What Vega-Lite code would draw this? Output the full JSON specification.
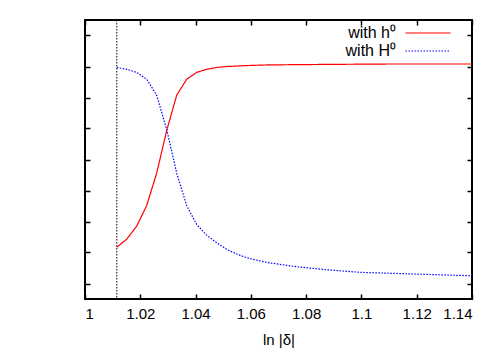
{
  "$schema": "https://vega.github.io/schema/vega-lite/v6.json",
  "width": 387,
  "height": 279,
  "autosize": {"type": "none"},
  "padding": {"left": 85, "top": 20, "right": 28, "bottom": 51},
  "background": "white",
  "config": {
    "view": {"stroke": "black", "strokeWidth": 2},
    "font": "Liberation Sans",
    "axis": {"domain": false, "grid": false, "tickColor": "black", "tickWidth": 1.5, "tickSize": -5, "labelFont": "Liberation Sans", "labelFontSize": 15, "labelColor": "black", "titleFont": "Liberation Sans", "titleFontSize": 15, "titleFontWeight": "normal", "titleColor": "black"}
  },
  "datasets": {
    "curves": [
      {"x": 1.0115, "y": 0.117, "series": "with h⁰"},
      {"x": 1.0151, "y": 0.143, "series": "with h⁰"},
      {"x": 1.0187, "y": 0.185, "series": "with h⁰"},
      {"x": 1.0223, "y": 0.251, "series": "with h⁰"},
      {"x": 1.0259, "y": 0.355, "series": "with h⁰"},
      {"x": 1.0296, "y": 0.495, "series": "with h⁰"},
      {"x": 1.0332, "y": 0.608, "series": "with h⁰"},
      {"x": 1.0368, "y": 0.659, "series": "with h⁰"},
      {"x": 1.0404, "y": 0.681, "series": "with h⁰"},
      {"x": 1.0440, "y": 0.691, "series": "with h⁰"},
      {"x": 1.0477, "y": 0.697, "series": "with h⁰"},
      {"x": 1.0513, "y": 0.700, "series": "with h⁰"},
      {"x": 1.0585, "y": 0.703, "series": "with h⁰"},
      {"x": 1.0657, "y": 0.705, "series": "with h⁰"},
      {"x": 1.0766, "y": 0.706, "series": "with h⁰"},
      {"x": 1.0911, "y": 0.707, "series": "with h⁰"},
      {"x": 1.1092, "y": 0.708, "series": "with h⁰"},
      {"x": 1.1272, "y": 0.708, "series": "with h⁰"},
      {"x": 1.14, "y": 0.708, "series": "with h⁰"},
      {"x": 1.0115, "y": 0.697, "series": "with H⁰"},
      {"x": 1.0151, "y": 0.691, "series": "with H⁰"},
      {"x": 1.0187, "y": 0.681, "series": "with H⁰"},
      {"x": 1.0223, "y": 0.659, "series": "with H⁰"},
      {"x": 1.0259, "y": 0.608, "series": "with H⁰"},
      {"x": 1.0296, "y": 0.495, "series": "with H⁰"},
      {"x": 1.0332, "y": 0.355, "series": "with H⁰"},
      {"x": 1.0368, "y": 0.251, "series": "with H⁰"},
      {"x": 1.0404, "y": 0.190, "series": "with H⁰"},
      {"x": 1.0440, "y": 0.156, "series": "with H⁰"},
      {"x": 1.0477, "y": 0.131, "series": "with H⁰"},
      {"x": 1.0513, "y": 0.110, "series": "with H⁰"},
      {"x": 1.0549, "y": 0.095, "series": "with H⁰"},
      {"x": 1.0585, "y": 0.083, "series": "with H⁰"},
      {"x": 1.0657, "y": 0.068, "series": "with H⁰"},
      {"x": 1.0766, "y": 0.054, "series": "with H⁰"},
      {"x": 1.0879, "y": 0.044, "series": "with H⁰"},
      {"x": 1.0995, "y": 0.036, "series": "with H⁰"},
      {"x": 1.1212, "y": 0.030, "series": "with H⁰"},
      {"x": 1.14, "y": 0.025, "series": "with H⁰"}
    ],
    "marker": [{"x": 1.0115}]
  },
  "layer": [
    {
      "data": {"name": "marker"},
      "mark": {"type": "rule", "color": "black", "strokeWidth": 1, "strokeDash": [1.5, 1.5]},
      "encoding": {
        "x": {"field": "x", "type": "quantitative", "scale": {"domain": [1, 1.14], "nice": false},
          "axis": {"orient": "top", "values": [1, 1.02, 1.04, 1.06, 1.08, 1.1, 1.12, 1.14], "labels": false, "title": null}}
      }
    },
    {
      "data": {"name": "curves"},
      "mark": {"type": "line", "strokeWidth": 1.2, "clip": true},
      "encoding": {
        "x": {"field": "x", "type": "quantitative", "scale": {"domain": [1, 1.14], "nice": false},
          "axis": {"orient": "bottom", "values": [1, 1.02, 1.04, 1.06, 1.08, 1.1, 1.12, 1.14], "format": ".2~f", "labelPadding": 12, "title": "ln |δ|", "titlePadding": 11}},
        "y": {"field": "y", "type": "quantitative", "scale": {"domain": [-0.05, 0.85], "nice": false, "zero": false},
          "axis": {"orient": "left", "values": [0, 0.1, 0.2, 0.3, 0.4, 0.5, 0.6, 0.7, 0.8], "labels": false, "title": null}},
        "color": {"field": "series", "type": "nominal",
          "scale": {"domain": ["with h⁰", "with H⁰"], "range": ["#ff0000", "#0000ff"]},
          "legend": {"orient": "none", "legendX": 335, "legendY": 5, "title": null, "symbolType": "M-5,0H5", "symbolSize": 81, "symbolStrokeWidth": 1.2, "labelFont": "Liberation Sans", "labelFontSize": 16, "labelColor": "black", "labelAlign": "right", "labelOffset": -40, "rowPadding": 2, "padding": 0}},
        "strokeDash": {"field": "series", "type": "nominal",
          "scale": {"domain": ["with h⁰", "with H⁰"], "range": [[1, 0], [1.5, 1.5]]},
          "legend": {"orient": "none", "legendX": 335, "legendY": 5, "title": null, "symbolType": "M-5,0H5", "symbolSize": 81, "symbolStrokeWidth": 1.2, "labelFont": "Liberation Sans", "labelFontSize": 16, "labelColor": "black", "labelAlign": "right", "labelOffset": -40, "rowPadding": 2, "padding": 0}}
      }
    },
    {
      "data": {"name": "marker"},
      "mark": {"type": "rule", "opacity": 0},
      "encoding": {
        "y": {"datum": 0.4, "type": "quantitative", "scale": {"domain": [-0.05, 0.85], "nice": false, "zero": false},
          "axis": {"orient": "right", "values": [0, 0.1, 0.2, 0.3, 0.4, 0.5, 0.6, 0.7, 0.8], "labels": false, "title": null}}
      }
    }
  ]
}
